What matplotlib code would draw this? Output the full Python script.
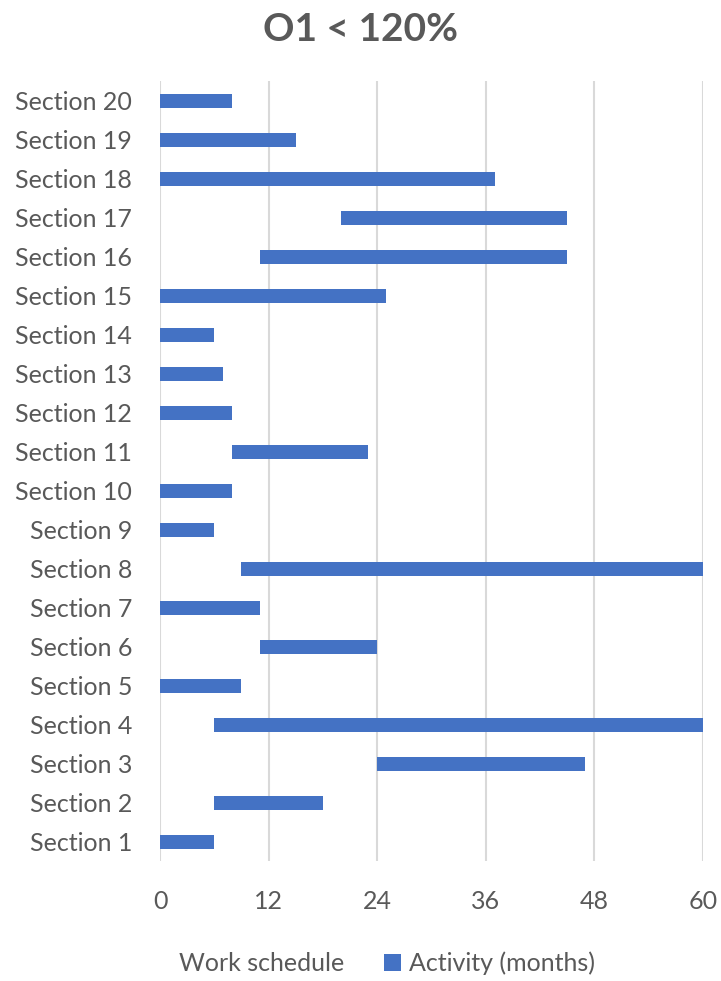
import matplotlib.pyplot as plt
from matplotlib.patches import Patch

sections = ["Section %d" % i for i in range(1, 21)]
start = [0, 6, 24, 6, 0, 11, 0, 9, 0, 0, 8, 0, 0, 0, 0, 11, 20, 0, 0, 0]
duration = [6, 12, 23, 54, 9, 13, 11, 51, 6, 8, 15, 8, 7, 6, 25, 34, 25, 37, 15, 8]
xticks = [0, 12, 24, 36, 48, 60]

grey = "#595959"
blue = "#4472C4"
plt.rcParams["font.family"] = ["Lato", "DejaVu Sans"]

fig = plt.figure(figsize=(7.21, 9.81), dpi=100)
ax = fig.add_axes([0.222, 0.122, 0.753, 0.795])

y = list(range(len(sections)))
ax.barh(y, start, height=0.35, color="none", label="Work schedule")
ax.barh(y, duration, left=start, height=0.35, color=blue, label="Activity (months)")

ax.set_xlim(0, 60)
ax.set_ylim(-0.5, len(sections) - 0.5)
ax.set_xticks(xticks)
ax.set_yticks(y)
ax.set_yticklabels(sections)
ax.grid(axis="x", color="#D9D9D9", linewidth=1.5)
ax.set_axisbelow(True)
for s in ax.spines.values():
    s.set_visible(False)
ax.tick_params(axis="both", length=0, labelsize=18, labelcolor=grey)
ax.tick_params(axis="x", pad=21)
ax.tick_params(axis="y", pad=20)

fig.suptitle("O1 < 120%", fontsize=28, fontweight="bold", color=grey, y=0.988)

handles = [Patch(facecolor="none", edgecolor="none"), Patch(facecolor=blue)]
fig.legend(handles, ["Work schedule", "Activity (months)"], loc="center",
           bbox_to_anchor=(0.519, 0.018), ncol=2, frameon=False, fontsize=18,
           labelcolor=grey, handlelength=0.7, handleheight=0.7, handletextpad=0.3,
           columnspacing=1.6)

fig.savefig("out.png", dpi=100)
